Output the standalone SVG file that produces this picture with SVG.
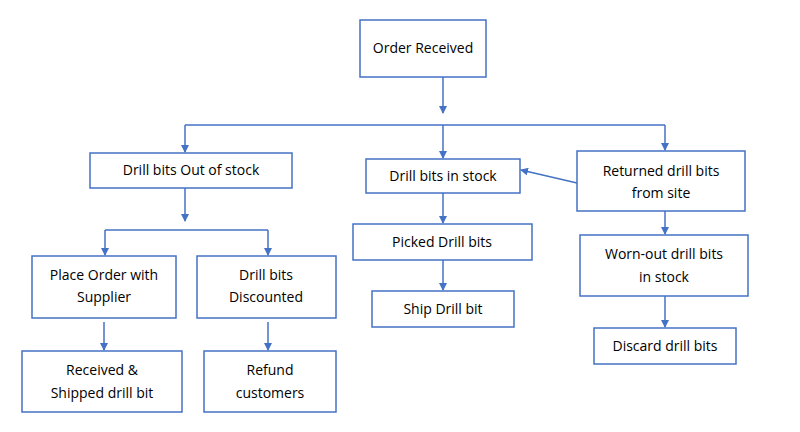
<svg xmlns="http://www.w3.org/2000/svg" width="800" height="432" viewBox="0 0 800 432">
<style>
.b{fill:#fff;stroke:#4472C4;stroke-width:1.5}
.t{font-family:"Open Sans","Liberation Sans",sans-serif;font-size:14px;fill:#000;text-anchor:middle}
.c{stroke:#4472C4;stroke-width:1.5;fill:none}
</style>
<defs><marker id="a" markerWidth="8" markerHeight="8" refX="7" refY="4" orient="auto" markerUnits="userSpaceOnUse"><path d="M0,0L8,4L0,8z" fill="#4472C4"/></marker></defs>
<rect width="800" height="432" fill="#fff"/>
<g id="connectors">
<path class="c" d="M443,77V113" marker-end="url(#a)"/>
<path class="c" d="M185,125H665"/>
<path class="c" d="M185,125V152" marker-end="url(#a)"/>
<path class="c" d="M443,125V158" marker-end="url(#a)"/>
<path class="c" d="M665,125V150" marker-end="url(#a)"/>
<path class="c" d="M185,188V221" marker-end="url(#a)"/>
<path class="c" d="M105,230H268"/>
<path class="c" d="M105,230V255" marker-end="url(#a)"/>
<path class="c" d="M268,230V255" marker-end="url(#a)"/>
<path class="c" d="M577,183L521,170" marker-end="url(#a)"/>
<path class="c" d="M443,193V223" marker-end="url(#a)"/>
<path class="c" d="M443,260V290" marker-end="url(#a)"/>
<path class="c" d="M665,211V234" marker-end="url(#a)"/>
<path class="c" d="M665,296V327" marker-end="url(#a)"/>
<path class="c" d="M104,322V350" marker-end="url(#a)"/>
<path class="c" d="M268,322V350" marker-end="url(#a)"/>
</g>
<g id="n1"><rect class="b" x="360" y="20" width="126" height="57"/><text class="t" x="423" y="53">Order Received</text></g>
<g id="n2"><rect class="b" x="90" y="153" width="202" height="35"/><text class="t" x="191" y="175">Drill bits Out of stock</text></g>
<g id="n3"><rect class="b" x="366" y="159" width="154" height="34"/><text class="t" x="443" y="181">Drill bits in stock</text></g>
<g id="n4"><rect class="b" x="577" y="151" width="168" height="60"/><text class="t" x="661" y="176">Returned drill bits</text><text class="t" x="661" y="198">from site</text></g>
<g id="n5"><rect class="b" x="32" y="256" width="144" height="62"/><text class="t" x="104" y="280">Place Order with</text><text class="t" x="104" y="302">Supplier</text></g>
<g id="n6"><rect class="b" x="197" y="256" width="139" height="62"/><text class="t" x="266" y="280">Drill bits</text><text class="t" x="266" y="302">Discounted</text></g>
<g id="n7"><rect class="b" x="353" y="224" width="179" height="36"/><text class="t" x="442" y="247">Picked Drill bits</text></g>
<g id="n8"><rect class="b" x="372" y="291" width="142" height="36"/><text class="t" x="443" y="314">Ship Drill bit</text></g>
<g id="n9"><rect class="b" x="580" y="235" width="168" height="61"/><text class="t" x="664" y="259">Worn-out drill bits</text><text class="t" x="664" y="282">in stock</text></g>
<g id="n10"><rect class="b" x="594" y="328" width="142" height="36"/><text class="t" x="665" y="351">Discard drill bits</text></g>
<g id="n11"><rect class="b" x="22" y="351" width="160" height="61"/><text class="t" x="102" y="375">Received &amp;</text><text class="t" x="102" y="398">Shipped drill bit</text></g>
<g id="n12"><rect class="b" x="204" y="351" width="132" height="61"/><text class="t" x="270" y="375">Refund</text><text class="t" x="270" y="398">customers</text></g>
</svg>
